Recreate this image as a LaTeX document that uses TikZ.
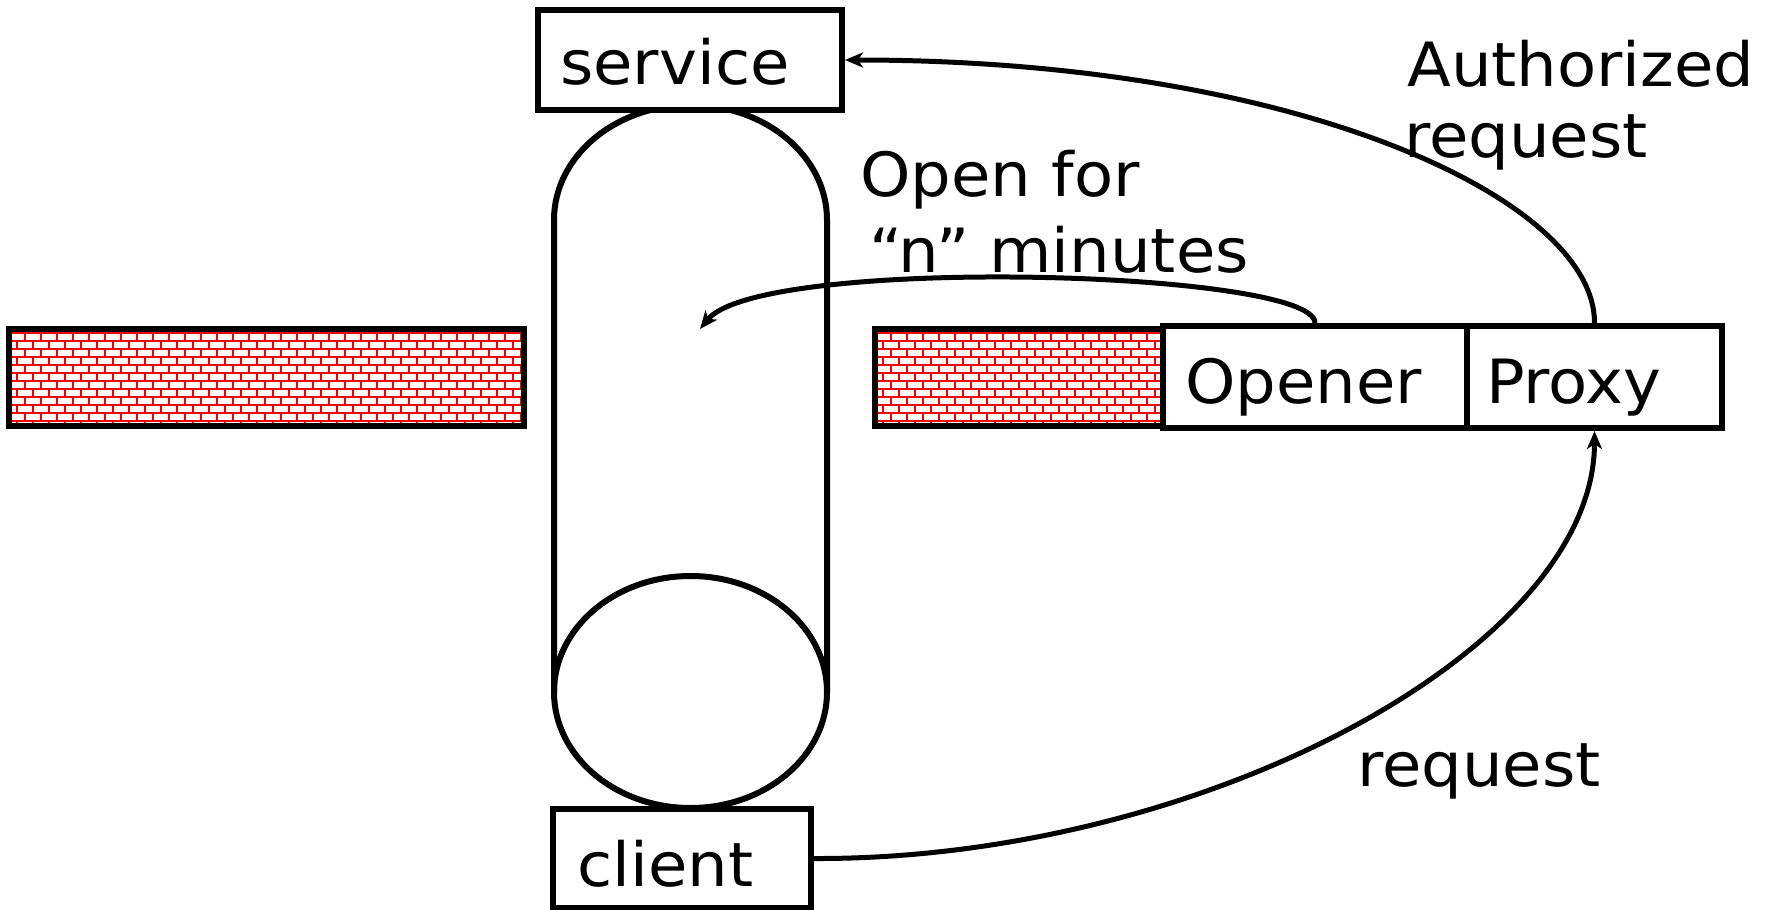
\documentclass[tikz,border=0pt]{standalone}
\usepackage{fontspec}
\setmainfont[FakeStretch=1.05]{DejaVu Sans}
\usetikzlibrary{arrows.meta}
\tikzset{
  box/.style={draw, line width=6pt, fill=white, inner sep=0pt, rectangle},
  lbl/.style={anchor=base west, inner sep=0pt, font=\fontsize{61}{70}\selectfont},
  brickline/.style={draw=red, line width=2.4pt},
  wallframe/.style={draw, line width=6pt},
  conn/.style={draw, line width=5pt, -{Stealth[length=18pt,width=15pt,inset=5pt]}},
  cyl/.style={draw, line width=6pt}
}
\newcommand\brickwall[4]{%
  \begin{scope}
    \clip (#1,#2) rectangle (#3,#4);
    \foreach \k in {0,...,12} {
      \pgfmathsetmacro\yy{#2+8*\k+4}
      \pgfmathsetmacro\off{mod(\k,2)*8}
      \draw[brickline] (#1,\yy) -- (#3,\yy);
      \foreach \j in {-1,...,33} {
        \draw[brickline] (#1+\off+16*\j,\yy) -- ++(0,8);
      }
    }
  \end{scope}
  \draw[wallframe] (#1,#2) rectangle (#3,#4);
}
\begin{document}
\begin{tikzpicture}[x=1pt,y=-1pt]
\useasboundingbox (0,0) rectangle (1765,910);
% walls
\brickwall{9}{329}{524}{426}
\brickwall{875}{329}{1163}{426}
% cylinder
\draw[cyl] (554,692) -- (554,220) arc[start angle=180,end angle=0,x radius=136.5pt,y radius=115pt] -- (827,692);
\draw[cyl] (690.5,692) ellipse [x radius=136.5, y radius=116];
% boxes
\node[box, minimum width=304pt, minimum height=100pt] (service) at (690,60) {};
\node[box, minimum width=258pt, minimum height=99pt] (client) at (682,858.5) {};
\node[box, minimum width=304pt, minimum height=102pt] (opener) at (1315,377) {};
\node[box, minimum width=255pt, minimum height=102pt] (proxy) at (1594.5,377) {};
% labels
\node[lbl] (tservice) at (560,84) {service};
\node[lbl] (tclient) at (577,886) {client};
\node[lbl] (topener) at (1185,403) {Opener};
\node[lbl] (tproxy) at (1486,403) {Proxy};
\node[lbl] (tauth1) at (1407,86) {Authorized};
\node[lbl] (tauth2) at (1404,157) {request};
\node[lbl] (topen1) at (860,196) {Open for};
\node[lbl] (topen2) at (869,272) {“n” minutes};
\node[lbl] (treq) at (1357,786) {request};
% connectors
\coordinate (inside) at (700,329);
\draw[conn] (proxy.north) .. controls (1595,200) and (1300,60) .. (service.east);
\draw[conn] (opener.north) .. controls (1315,270) and (760,255) .. (inside);
\draw[conn] (client.east) .. controls (1200,860) and (1594.5,650) .. (proxy.south);
\end{tikzpicture}
\end{document}
